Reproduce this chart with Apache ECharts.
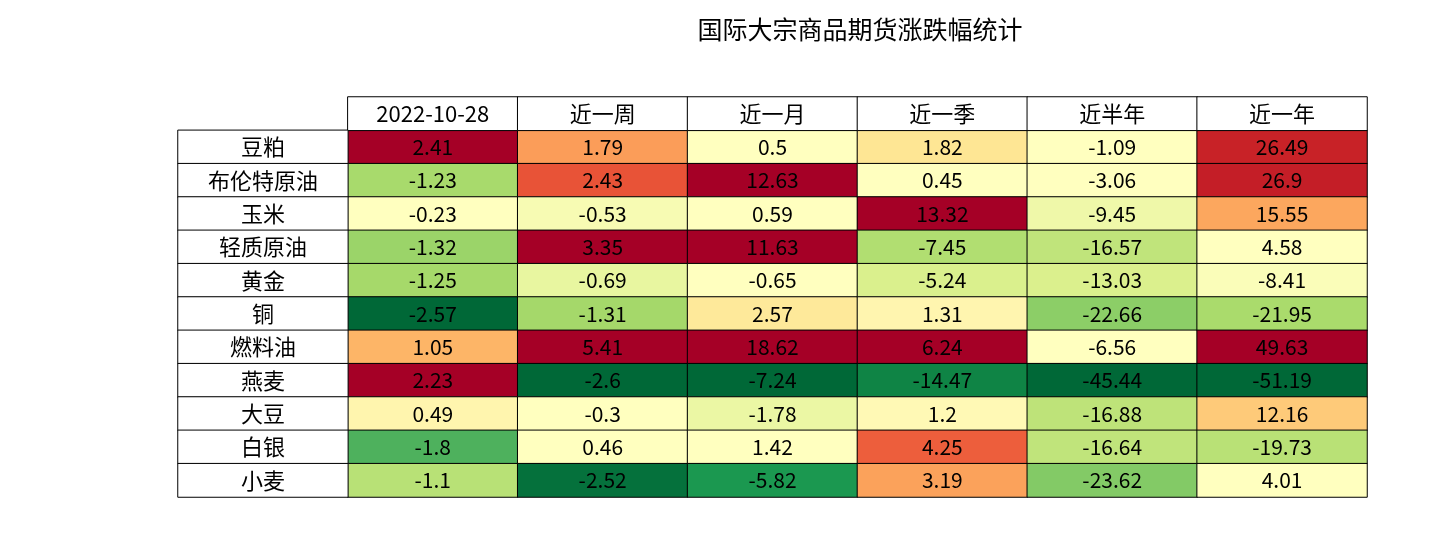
<!DOCTYPE html>
<html>
<head>
<meta charset="utf-8">
<script src="https://cdn.jsdelivr.net/npm/echarts@6/dist/echarts.min.js"></script>
<style>html,body{margin:0;padding:0;background:#fff}#main{width:1450px;height:550px}</style>
</head>
<body>
<div id="main"></div>
<script>
var columns = ['2022-10-28', '近一周', '近一月', '近一季', '近半年', '近一年'];
var names = ['豆粕', '布伦特原油', '玉米', '轻质原油', '黄金', '铜', '燃料油', '燕麦', '大豆', '白银', '小麦'];
var col1 = [2.41, -1.23, -0.23, -1.32, -1.25, -2.57, 1.05, 2.23, 0.49, -1.8, -1.1];
var col2 = [1.79, 2.43, -0.53, 3.35, -0.69, -1.31, 5.41, -2.6, -0.3, 0.46, -2.52];
var col3 = [0.5, 12.63, 0.59, 11.63, -0.65, 2.57, 18.62, -7.24, -1.78, 1.42, -5.82];
var col4 = [1.82, 0.45, 13.32, -7.45, -5.24, 1.31, 6.24, -14.47, 1.2, 4.25, 3.19];
var col5 = [-1.09, -3.06, -9.45, -16.57, -13.03, -22.66, -6.56, -45.44, -16.88, -16.64, -23.62];
var col6 = [26.49, 26.9, 15.55, 4.58, -8.41, -21.95, 49.63, -51.19, 12.16, -19.73, 4.01];
var values = [col1, col2, col3, col4, col5, col6];
// 每列颜色尺度（正 / 负）
var posScales = [2.2, 3.3, 9, 6, 40, 30];
var negScales = [2.5, 2.6, 7, 16, 40, 45];

var cells = [];
values.forEach(function (col, c) {
  col.forEach(function (v, r) {
    var s = v >= 0 ? v / posScales[c] : v / negScales[c];
    cells.push([c + 1, r + 1, v, s]);
  });
});
var heads = [];
columns.forEach(function (t, c) { heads.push([c + 1, 0, 0]); });
names.forEach(function (t, r) { heads.push([0, r + 1, 0]); });

var font = '"Noto Sans CJK SC", sans-serif';
var myChart = echarts.init(document.getElementById('main'));
var option = {
  animation: false,
  title: {
    text: '国际大宗商品期货涨跌幅统计',
    left: 855, top: 12, textAlign: 'center',
    textStyle: { fontFamily: font, fontSize: 25, fontWeight: 'normal', color: '#000' }
  },
  grid: { left: 178, right: 83, top: 97, bottom: 53 },
  xAxis: { type: 'category', data: [0, 1, 2, 3, 4, 5, 6], show: false },
  yAxis: { type: 'category', data: [0, 1, 2, 3, 4, 5, 6, 7, 8, 9, 10, 11], inverse: true, show: false },
  visualMap: {
    show: false, seriesIndex: 0, dimension: 3, min: -1, max: 1,
    inRange: { color: ['#006837', '#1a9850', '#66bd63', '#a6d96a', '#d9ef8b', '#ffffbf', '#ffffbf', '#ffffbf', '#fee08b', '#fdae61', '#f46d43', '#d73027', '#a50026'] }
  },
  series: [
    {
      type: 'heatmap',
      data: cells,
      encode: { x: 0, y: 1, value: 3 },
      itemStyle: { borderColor: '#000', borderWidth: 1 },
      label: {
        show: true, fontFamily: font, fontSize: 21, color: '#000',
        formatter: function (p) { return String(p.data[2]); }
      }
    },
    {
      type: 'heatmap',
      data: heads,
      itemStyle: { color: '#fff', borderColor: '#000', borderWidth: 1 },
      label: {
        show: true, fontFamily: font, fontSize: 22, color: '#000',
        formatter: function (p) {
          return p.data[1] === 0 ? columns[p.data[0] - 1] : names[p.data[1] - 1];
        }
      }
    }
  ]
};
myChart.setOption(option);
</script>
</body>
</html>
